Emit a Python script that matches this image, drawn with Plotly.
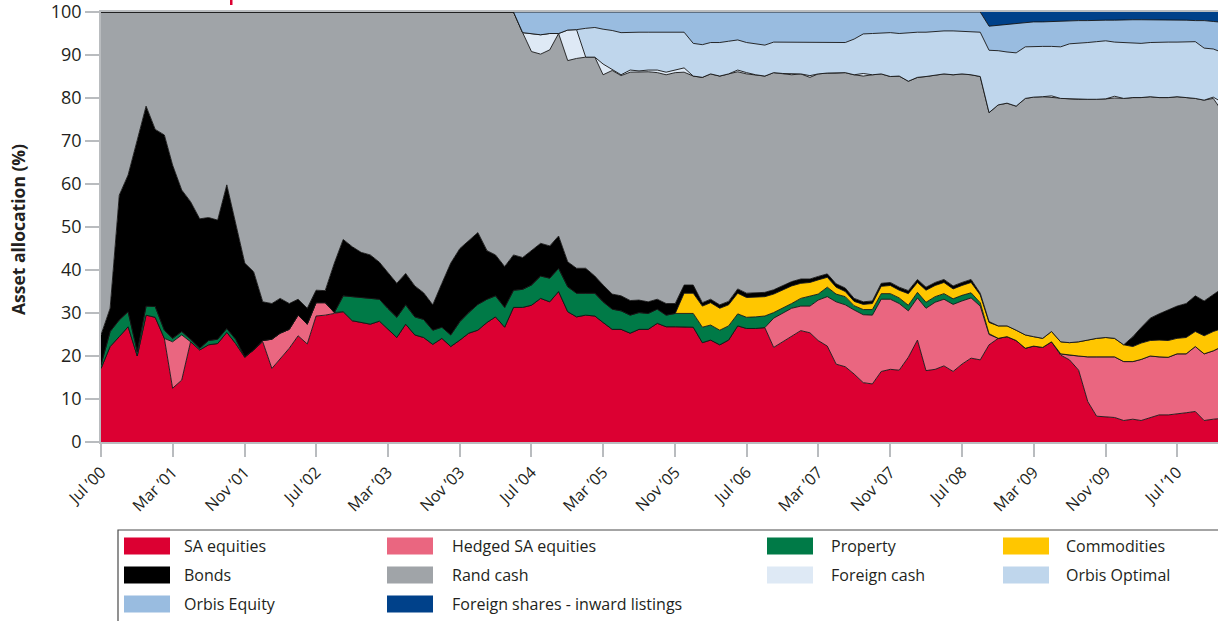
import pandas as pd
import plotly.graph_objects as go

# monthly observations, Jul 2000 onwards
months = pd.date_range("2000-07-01", periods=126, freq="MS")

sa_equities = [
    17.1, 22.2, 24.5, 26.8, 20.0, 29.5, 29.0, 24.1, 12.5, 14.4,
    23.3, 21.4, 22.6, 22.9, 25.5, 22.9, 19.7, 21.4, 23.3, 17.1,
    19.3, 21.8, 24.7, 22.8, 29.3, 29.5, 29.9, 30.3, 28.2, 27.8,
    27.4, 28.1, 26.2, 24.3, 27.4, 24.9, 24.3, 22.7, 24.1, 22.2,
    23.7, 25.3, 26.0, 27.8, 29.1, 26.7, 31.3, 31.3, 31.8, 33.4,
    32.6, 35.0, 30.3, 29.1, 29.5, 29.3, 27.8, 26.2, 26.2, 25.3,
    26.2, 26.2, 27.6, 26.8, 26.8, 26.8, 26.7, 23.1, 23.7, 22.6,
    23.7, 27.0, 26.4, 26.4, 26.6, 22.0, 23.3, 24.7, 25.9, 25.4,
    23.6, 22.3, 18.1, 17.5, 15.8, 13.8, 13.5, 16.4, 16.9, 16.7,
    19.7, 23.7, 16.6, 16.9, 17.7, 16.4, 18.1, 19.5, 19.1, 22.6,
    24.1, 24.5, 23.6, 21.8, 22.3, 22.0, 23.3, 20.2, 19.1, 16.7,
    9.4, 6.0, 5.9, 5.7, 5.0, 5.3, 5.0, 5.7, 6.3, 6.3,
    6.5, 6.8, 7.1, 5.0, 5.3, 5.5,
]
hedged_sa_equities = [
    0, 0, 0, 0, 0, 0, 0, 0, 10.8, 10.5,
    0, 0, 0, 0, 0, 0, 0, 0, 0.3, 6.8,
    6.0, 4.4, 4.8, 4.6, 3.1, 2.9, 0.2, 0, 0, 0,
    0, 0, 0, 0, 0, 0, 0, 0, 0, 0,
    0, 0, 0, 0, 0, 0, 0, 0, 0, 0,
    0, 0, 0, 0, 0, 0, 0, 0, 0, 0,
    0, 0, 0, 0, 0, 0, 0, 0, 0, 0,
    0, 0, 0, 0, 0, 6.8, 6.7, 6.4, 5.7, 6.2,
    9.4, 11.5, 14.5, 14.4, 14.9, 15.8, 16.0, 16.8, 16.3, 15.5,
    10.8, 9.8, 14.5, 15.6, 15.5, 15.6, 14.7, 14.0, 12.5, 2.4,
    0, 0, 0, 0, 0, 0, 0, 0.3, 1.1, 3.3,
    10.4, 13.8, 13.9, 14.1, 13.7, 13.4, 14.2, 14.3, 13.5, 13.4,
    14.0, 13.7, 15.1, 15.5, 15.9, 16.7,
]
property_ = [
    0.8, 3.5, 3.9, 3.5, 1.0, 2.1, 2.5, 1.9, 0.8, 0.8,
    0.6, 0.4, 1.0, 1.0, 0.9, 1.0, 0.1, 0, 0, 0,
    0, 0, 0, 0, 0, 0, 0, 3.7, 5.6, 5.8,
    6.0, 5.1, 4.9, 4.7, 4.5, 4.2, 4.2, 3.3, 2.6, 2.7,
    4.3, 4.8, 6.0, 5.4, 4.9, 4.6, 4.0, 4.2, 4.7, 5.2,
    5.5, 5.4, 5.8, 5.5, 5.1, 5.3, 4.8, 4.7, 4.3, 4.2,
    3.9, 3.7, 3.3, 2.7, 3.1, 3.1, 3.2, 3.6, 3.5, 3.4,
    3.3, 2.8, 2.6, 2.7, 2.7, 1.3, 1.1, 1.1, 1.8, 2.3,
    1.4, 2.2, 1.8, 1.9, 1.0, 1.2, 1.3, 1.3, 1.3, 1.3,
    1.3, 1.3, 1.4, 1.3, 1.3, 1.3, 1.3, 1.2, 0.8, 0.2,
    0, 0, 0, 0, 0, 0, 0, 0, 0, 0,
    0, 0, 0, 0, 0, 0, 0, 0, 0, 0,
    0, 0, 0, 0, 0, 0,
]
commodities = [0] * 65 + [
    4.7, 4.7, 4.9, 5.2, 5.1,
    4.9, 4.8, 4.6, 4.6, 4.5, 4.3, 4.2, 4.1, 3.5, 3.2,
    3.3, 2.3, 1.6, 1.2, 1.0, 1.2, 1.4, 1.7, 1.9, 1.8,
    2.7, 2.3, 2.8, 2.6, 2.6, 2.3, 2.3, 2.4, 1.8, 2.6,
    2.9, 2.5, 2.4, 3.1, 2.2, 2.1, 2.4, 2.8, 2.9, 3.3,
    3.9, 4.3, 4.5, 4.3, 3.9, 3.5, 3.8, 3.6, 3.9, 3.9,
    3.6, 3.8, 3.5, 4.2, 4.5, 4.2,
]
bonds = [
    7.0, 5.4, 29.0, 31.8, 49.2, 46.5, 41.2, 45.4, 40.3, 32.9,
    32.0, 30.1, 28.6, 27.7, 33.4, 26.6, 21.8, 18.2, 9.0, 8.3,
    8.1, 6.0, 3.7, 3.7, 2.9, 2.8, 11.5, 13.1, 11.6, 10.5,
    10.1, 8.6, 8.3, 7.9, 7.3, 7.2, 6.2, 5.9, 10.2, 16.7,
    17.0, 16.7, 16.7, 11.3, 9.5, 9.5, 8.2, 7.4, 8.0, 7.6,
    7.5, 7.5, 5.8, 5.8, 5.8, 4.0, 3.9, 3.5, 3.5, 3.4,
    2.9, 2.7, 2.3, 2.7, 2.3, 1.9, 1.9, 0.8, 0.8, 0.8,
    0.8, 1.0, 1.0, 1.0, 1.0, 1.0, 1.0, 1.0, 1.0, 0.8,
    0.8, 0.8, 0.8, 0.8, 0.7, 0.6, 0.6, 0.7, 0.7, 0.7,
    0.7, 0.7, 0.7, 0.7, 0.7, 0.7, 0.7, 0.7, 0.4, 0.2,
    0, 0, 0, 0, 0, 0, 0, 0, 0, 0,
    0, 0, 0, 0, 0, 2.3, 3.6, 5.2, 6.1, 7.1,
    7.5, 7.9, 8.3, 8.1, 8.5, 9.3,
]
rand_cash = [
    75.1, 68.9, 42.6, 37.9, 29.8, 21.9, 27.3, 28.6, 35.6, 41.4,
    44.1, 48.1, 47.8, 48.4, 40.2, 49.5, 58.4, 60.4, 67.4, 67.8,
    66.6, 67.8, 66.8, 68.9, 64.7, 64.8, 58.4, 52.9, 54.6, 55.9,
    56.5, 58.2, 60.6, 63.1, 60.8, 63.7, 65.3, 68.1, 63.1, 58.4,
    55.0, 53.2, 51.3, 55.5, 56.5, 59.2, 56.5, 52.3, 46.3, 44.0,
    45.6, 47.1, 46.8, 48.8, 49.1, 50.9, 48.9, 52.0, 51.2, 53.1,
    53.0, 53.5, 52.7, 53.2, 53.7, 49.5, 48.6, 52.4, 52.4, 53.2,
    52.9, 50.5, 51.0, 50.7, 50.3, 50.5, 49.4, 48.1, 47.7, 46.9,
    47.1, 46.7, 49.0, 50.1, 52.0, 52.5, 52.6, 48.7, 47.9, 49.1,
    48.7, 47.0, 49.0, 48.2, 47.8, 49.1, 48.5, 47.6, 50.4, 48.6,
    51.4, 51.8, 52.1, 55.0, 55.7, 56.2, 54.4, 56.6, 56.7, 56.4,
    56.0, 55.6, 55.5, 55.9, 57.3, 55.6, 53.5, 51.5, 50.3, 49.4,
    48.7, 47.9, 45.9, 46.7, 45.7, 41.2,
]
foreign_cash = [0] * 48 + [
    4.2, 4.5,
    3.8, 0, 7.1, 6.7, 0, 0, 2.5, 0.2, 0.2, 0.5,
    0.3, 0.4, 0.6, 0.6, 0.6, 1.0, 0, 0, 0, 0,
    0, 0.4, 0.3, 0, 0, 0, 0, 0.2, 0, 0.4,
    0, 0, 0, 0, 0, 0.6, 0, 0, 0, 0,
    0, 0, 0, 0, 0, 0, 0, 0, 0, 0,
    0, 0, 0, 0, 0, 0, 0.4, 0, 0, 0,
    0, 0, 0, 0.4, 0, 0, 0, 0, 0, 0,
    0, 0, 0, 0, 0.3, 2.1,
]
orbis_optimal = [0] * 54 + [
    6.7, 6.9, 8.1, 9.1, 9.8, 8.8,
    9.0, 8.8, 8.8, 9.3, 8.8, 8.3, 7.6, 7.6, 7.3, 7.8,
    7.6, 7.0, 7.0, 7.2, 7.2, 7.1, 7.3, 7.4, 7.4, 7.8,
    7.4, 7.2, 7.2, 7.0, 8.3, 9.2, 9.6, 9.5, 10.2, 9.9,
    11.3, 10.5, 10.3, 10.2, 10.0, 10.2, 9.9, 10.0, 10.3, 14.5,
    12.6, 11.9, 12.4, 12.0, 11.8, 11.7, 11.5, 12.0, 12.8, 13.0,
    13.2, 13.4, 13.5, 12.6, 13.0, 12.8, 12.6, 12.6, 12.9, 12.9,
    12.7, 12.9, 13.2, 12.1, 11.2, 11.6,
]
orbis_equity = [0] * 47 + [
    4.8, 5.0, 5.3,
    5.0, 5.0, 4.2, 4.1, 3.8, 3.6, 4.0, 4.3, 4.8, 4.7,
    4.7, 4.7, 4.7, 4.7, 4.7, 4.7, 7.3, 7.6, 7.1, 7.1,
    6.8, 6.5, 7.1, 7.4, 7.7, 7.0, 7.0, 7.0, 7.0, 7.0,
    7.0, 7.0, 7.0, 7.1, 6.3, 5.1, 5.0, 4.9, 4.8, 5.0,
    4.8, 4.7, 4.7, 4.5, 4.4, 4.4, 4.5, 4.6, 4.7, 5.6,
    5.9, 6.3, 6.7, 5.5, 5.7, 5.7, 5.8, 6.0, 5.4, 5.3,
    5.1, 5.0, 4.8, 5.1, 5.3, 5.3, 5.5, 5.3, 5.2, 5.2,
    5.2, 5.1, 4.9, 6.4, 6.4, 7.0,
]
foreign_shares = [0] * 99 + [
    3.3,
    3.1, 3.0, 2.8, 2.6, 2.3, 2.3, 2.2, 2.1, 2.0, 2.0,
    2.0, 1.9, 1.9, 1.9, 1.8, 1.8, 1.8, 1.8, 1.8, 1.8,
    1.8, 1.9, 2.0, 2.0, 2.2, 2.4,
]

series = [
    ("SA equities", sa_equities, "#dc0032"),
    ("Hedged SA equities", hedged_sa_equities, "#ea6680"),
    ("Property", property_, "#007a47"),
    ("Commodities", commodities, "#ffc600"),
    ("Bonds", bonds, "#000000"),
    ("Rand cash", rand_cash, "#a0a4a8"),
    ("Foreign cash", foreign_cash, "#dee9f5"),
    ("Orbis Optimal", orbis_optimal, "#bfd6ec"),
    ("Orbis Equity", orbis_equity, "#99bce0"),
    ("Foreign shares - inward listings", foreign_shares, "#00418a"),
]

W, H = 1218, 621
L, T, B = 101, 12, 442  # plot area in page pixels


def px(x):
    return (x - L) / (W - L)


def py(y):
    return (B - y) / (B - T)


fig = go.Figure()
for name, vals, color in series:
    top = name.startswith("Foreign shares")
    fig.add_trace(go.Scatter(
        x=months, y=vals, name=name, stackgroup="one", mode="lines",
        line=dict(color="#141414", width=0 if top else 0.9),
        fillcolor=color, showlegend=False, hoverinfo="skip",
    ))

axis_grey = "#b9bcbf"
font = "Open Sans, Noto Sans, DejaVu Sans, sans-serif"

fig.update_xaxes(
    type="date", range=["2000-07-01", "2010-11-17"],
    tick0="2000-07-01", dtick="M8", tickformat="%b ’%y", tickangle=-45,
    ticks="outside", ticklen=13, tickcolor=axis_grey, tickwidth=1.5,
    showline=True, linecolor=axis_grey, linewidth=1.5, mirror=True,
    showgrid=False, zeroline=False, automargin=False,
    tickfont=dict(size=16, color="#231f20"),
)
fig.update_yaxes(
    range=[0, 100], dtick=10, ticks="outside", ticklen=14,
    tickcolor=axis_grey, tickwidth=1.5,
    showline=True, linecolor=axis_grey, linewidth=1.5,
    showgrid=False, zeroline=False, automargin=False,
    ticklabeloverflow="allow",
    tickfont=dict(size=18, color="#231f20"),
)

shapes = []
annotations = [dict(
    text="<b>Asset allocation (%)</b>", textangle=-90,
    xref="paper", yref="paper", x=px(18), y=py(230),
    xanchor="center", yanchor="middle", showarrow=False,
    font=dict(size=17.5, color="#231f20"),
)]

# cut-off red mark at the very top
shapes.append(dict(type="rect", xref="paper", yref="paper",
                   x0=px(230), x1=px(232.5), y0=py(0), y1=py(5),
                   fillcolor="#dc0032", line_width=0))

# legend box, drawn by hand in a 4-column grid
shapes.append(dict(type="rect", xref="paper", yref="paper",
                   x0=px(118), x1=px(1240), y0=py(530), y1=py(650),
                   line=dict(color="#4a4a4a", width=1.2), fillcolor="white",
                   layer="below"))
col_sw = [124, 387, 767, 1003]
col_tx = [182, 450, 829, 1064]
row_y = [546, 575, 604]
for i, (name, _, color) in enumerate(series):
    r, c = divmod(i, 4)
    yc = row_y[r]
    shapes.append(dict(type="rect", xref="paper", yref="paper",
                       x0=px(col_sw[c]), x1=px(col_sw[c] + 46),
                       y0=py(yc + 8.5), y1=py(yc - 8.5),
                       fillcolor=color, line_width=0))
    annotations.append(dict(text=name, xref="paper", yref="paper",
                            x=px(col_tx[c]), y=py(yc), xanchor="left",
                            yanchor="middle", showarrow=False,
                            font=dict(size=16, color="#231f20")))

fig.update_layout(
    width=W, height=H,
    margin=dict(l=L, r=0, t=T, b=H - B),
    paper_bgcolor="white", plot_bgcolor="white",
    font=dict(family=font, color="#231f20"),
    shapes=shapes, annotations=annotations,
    showlegend=False, hovermode=False,
)

# drop the browser's default body margin so the figure sits at the page origin
fig.write_html("out.html", config={"displayModeBar": False},
               post_script="document.body.style.margin='0px';")
